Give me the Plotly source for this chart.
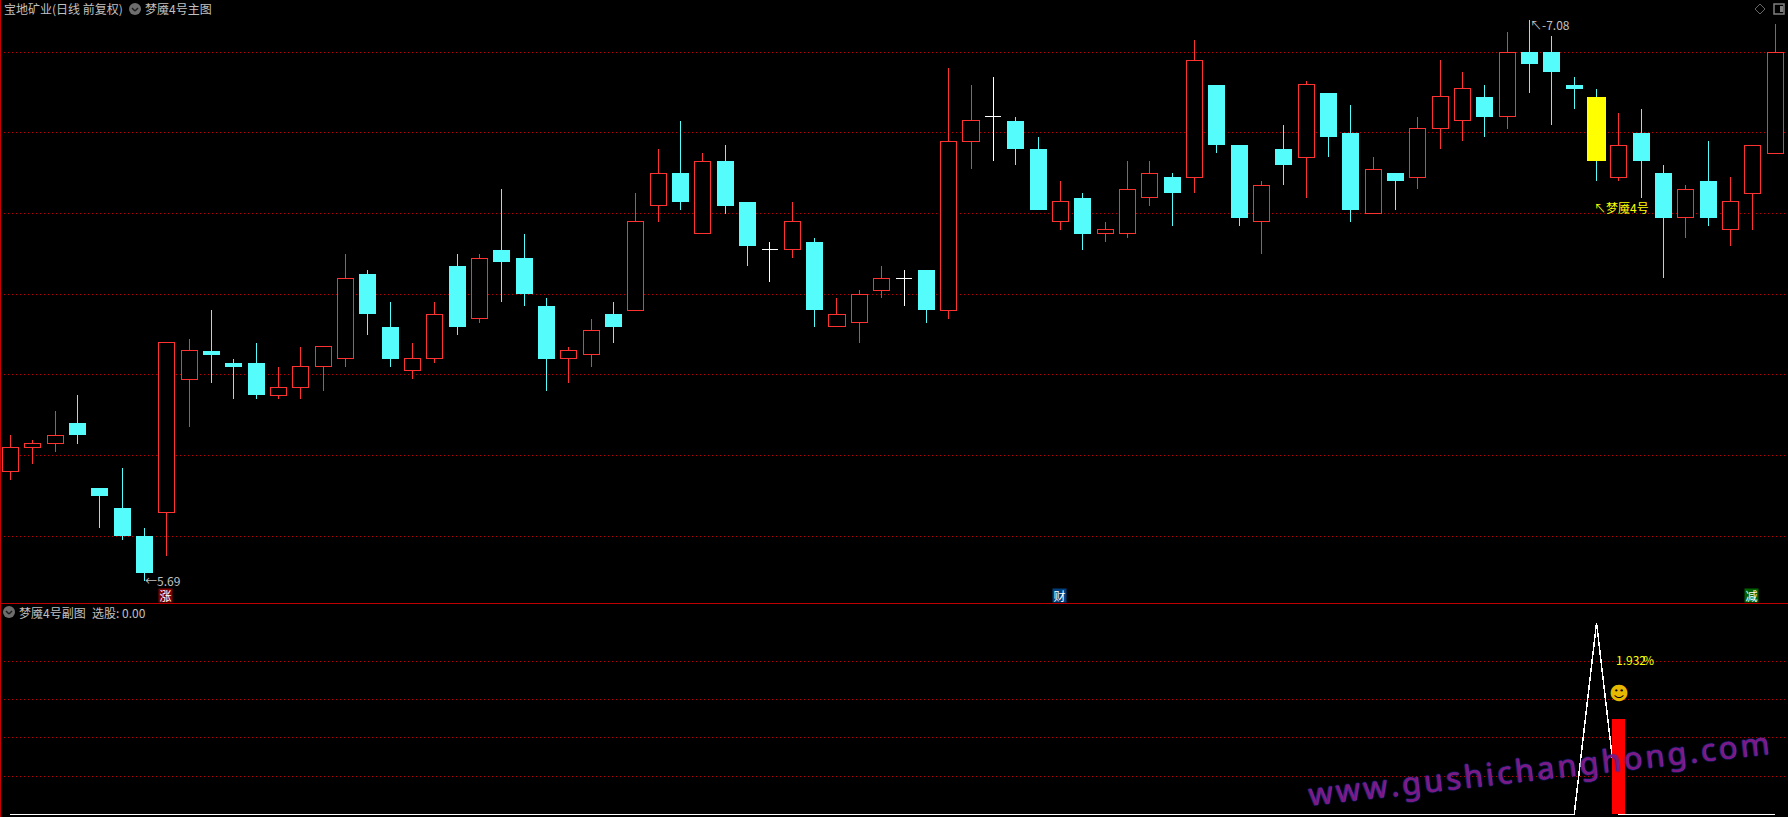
import plotly.graph_objects as go

W, H = 1788, 817

# ---- price data (one entry per trading day) ----
opens = [5.96,6.02,6.03,6.08,5.92,5.87,5.80,5.86,6.19,6.26,6.23,6.23,6.15,6.17,6.22,6.24,6.45,6.32,6.21,6.24,
         6.47,6.34,6.51,6.49,6.37,6.24,6.25,6.35,6.36,6.62,6.70,6.55,6.73,6.63,6.51,6.51,6.53,6.32,6.33,6.41,
         6.44,6.46,6.36,6.78,6.84,6.83,6.76,6.58,6.64,6.55,6.55,6.64,6.69,6.69,6.92,6.77,6.58,6.76,6.74,6.90,
         6.80,6.60,6.70,6.69,6.81,6.83,6.89,6.84,7.00,7.00,6.92,6.89,6.69,6.80,6.70,6.59,6.68,6.56,6.65,6.75]
highs = [6.05,6.04,6.11,6.15,5.92,5.97,5.82,6.28,6.29,6.36,6.24,6.28,6.22,6.27,6.27,6.50,6.46,6.38,6.28,6.38,
         6.50,6.50,6.66,6.55,6.39,6.27,6.34,6.38,6.65,6.76,6.83,6.75,6.77,6.63,6.53,6.63,6.54,6.39,6.41,6.47,
         6.46,6.46,6.96,6.92,6.94,6.84,6.79,6.68,6.65,6.58,6.73,6.73,6.70,7.03,6.92,6.77,6.68,6.82,6.93,6.90,
         6.87,6.74,6.70,6.84,6.98,6.95,6.92,7.05,7.08,7.04,6.94,6.91,6.85,6.86,6.72,6.67,6.78,6.69,6.77,7.07]
lows = [5.94,5.98,6.01,6.03,5.82,5.79,5.69,5.75,6.07,6.18,6.14,6.14,6.14,6.14,6.16,6.22,6.30,6.22,6.19,6.23,
        6.30,6.33,6.38,6.37,6.16,6.18,6.22,6.28,6.36,6.58,6.61,6.55,6.60,6.47,6.43,6.49,6.32,6.32,6.28,6.39,
        6.37,6.33,6.34,6.71,6.73,6.72,6.61,6.56,6.51,6.53,6.54,6.62,6.57,6.65,6.75,6.57,6.50,6.67,6.64,6.74,
        6.58,6.60,6.61,6.66,6.76,6.78,6.79,6.81,6.90,6.82,6.86,6.68,6.68,6.64,6.44,6.54,6.57,6.52,6.56,6.75]
closes = [6.02,6.03,6.05,6.05,5.90,5.80,5.71,6.28,6.26,6.25,6.22,6.15,6.17,6.22,6.27,6.44,6.35,6.24,6.24,6.35,
          6.32,6.49,6.48,6.40,6.24,6.26,6.31,6.32,6.58,6.70,6.63,6.73,6.62,6.52,6.51,6.58,6.36,6.35,6.40,6.44,
          6.44,6.36,6.78,6.83,6.84,6.76,6.61,6.63,6.55,6.56,6.66,6.70,6.65,6.98,6.77,6.59,6.67,6.72,6.92,6.79,
          6.61,6.71,6.68,6.81,6.89,6.91,6.84,7.00,6.97,6.95,6.91,6.73,6.77,6.73,6.59,6.66,6.59,6.63,6.77,7.00]
signal_day = 71          # the day painted yellow
price_grid = [7.0, 6.8, 6.6, 6.4, 6.2, 6.0, 5.8]

# ---- indicator data ----
line_values = [0]*71 + [100] + [0]*8
bar_days = [72]
bar_values = [50]
sub_grid = [20, 40, 60, 80]

days = list(range(len(opens)))

RED, CYAN, YELLOW, WHITE = "#ff3232", "#54fcfc", "#ffff00", "#ffffff"
GRID = "#c00000"
FONT = "Noto Sans CJK SC"
px, py = (lambda x: x/W), (lambda y: 1-y/H)

def kind(i):
    if i == signal_day: return "y"
    if opens[i] == closes[i]: return "d"
    return "r" if closes[i] > opens[i] else "c"

kinds = [kind(i) for i in days]
wick_col = {"y": CYAN, "d": WHITE, "r": RED, "c": CYAN}

fig = go.Figure()

# wicks
fig.add_bar(x=days, base=lows, y=[h-l for h, l in zip(highs, lows)], width=0.045,
            marker=dict(color=[wick_col[k] for k in kinds], line_width=0), xaxis="x", yaxis="y")

def sel(k): return [i for i in days if kinds[i] == k]

# falling candles, filled cyan
c = sel("c")
fig.add_bar(x=c, base=[closes[i] for i in c], y=[opens[i]-closes[i] for i in c], width=0.76,
            marker=dict(color=CYAN, line_width=0), xaxis="x", yaxis="y")
# rising candles, hollow red
r = sel("r")
fig.add_bar(x=r, base=[opens[i] for i in r], y=[closes[i]-opens[i] for i in r], width=0.72,
            marker=dict(color="#000000", line=dict(color=RED, width=1)), xaxis="x", yaxis="y")
# signal day, yellow
fig.add_bar(x=[signal_day], base=[closes[signal_day]], y=[opens[signal_day]-closes[signal_day]], width=0.85,
            marker=dict(color=YELLOW, line_width=0), xaxis="x", yaxis="y")
# unchanged days, white cross
d = sel("d")
fig.add_bar(x=d, base=[closes[i]-0.0012 for i in d], y=[0.0025]*len(d), width=0.72,
            marker=dict(color=WHITE, line_width=0), xaxis="x", yaxis="y")

# lower pane: the line first, the bar on a twin axis so it covers the line
fig.add_scatter(x=days, y=line_values, mode="lines", line=dict(color=WHITE, width=1.5),
                xaxis="x2", yaxis="y2")
fig.add_bar(x=bar_days, y=bar_values, width=0.58, marker=dict(color="#ff0000", line_width=0),
            xaxis="x2", yaxis="y3")

xr = [-0.4655, 79.57]
split = 603.5
sub_range = [-1.31, 110]
ax = dict(range=xr, showgrid=False, zeroline=False, showticklabels=False, ticks="", showline=False, fixedrange=True)
ay = dict(showgrid=True, gridcolor=GRID, griddash="1px,3px", gridwidth=1, zeroline=False,
          showticklabels=False, ticks="", showline=False, fixedrange=True)

def note(text, x, y, color="#c0c0c0", size=12, xref="paper", yref="paper", xa="left", ya="middle", **kw):
    return dict(text=text, x=x, y=y, xref=xref, yref=yref, xanchor=xa, yanchor=ya, showarrow=False,
                font=dict(color=color, size=size, family=FONT), borderpad=0, **kw)

tag = dict(color=WHITE, xref="x", xa="center", width=13, height=13, xshift=-1)
annotations = [
    note("宝地矿业(日线 前复权)", px(3), py(9)),
    note("梦魇4号主图", px(144), py(9)),
    note("梦魇4号副图", px(18), py(612)),
    note("选股: 0.00", px(91), py(612)),
    # extreme labels
    note("←5.69", 6, 5.69, xref="x", yref="y"),
    note("↖‑7.08", 68, 7.08, xref="x", yref="y", yshift=-4, xshift=-1),
    note("↖梦魇4号", 71, 6.61, color=YELLOW, xref="x", yref="y", xshift=-4, yshift=2),
    # tags on the lower edge of the upper pane
    note("涨", 7, py(595.5), bgcolor="#800000", **tag),
    note("财", 47, py(595.5), bgcolor="#004080", **tag),
    note("减", 78, py(595.5), bgcolor="#006400", **tag),
    # lower pane labels
    note("1.932", 72, 80.7, color=YELLOW, xref="x2", yref="y2", xshift=-4),
    note("%", 72, 80.7, color=YELLOW, xref="x2", yref="y2", xshift=23),
    dict(text="☻", x=72, y=63.5, xref="x2", yref="y2", showarrow=False, xanchor="center", yanchor="middle",
         font=dict(color="#e6b800", size=19, family="DejaVu Sans")),
    # watermark
    dict(text="\u200a".join("www.gushichanghong.com"), x=px(1538), y=py(768), xref="paper", yref="paper",
         showarrow=False, xanchor="center", yanchor="middle", textangle=-6.4,
         font=dict(color="#801880", size=31, family="Noto Sans",
                   shadow="0 0 1.5px #3030b0, 0 0 1.5px #3030b0, 0 0 1px #3030b0")),
]

def seg(x0, y0, x1, y1, color, w=1):
    return dict(type="line", xref="paper", yref="paper", x0=px(x0), y0=py(y0), x1=px(x1), y1=py(y1),
                line=dict(color=color, width=w), layer="above")

def badge(cx, cy):
    return [dict(type="circle", xref="paper", yref="paper", x0=px(cx-6), x1=px(cx+6), y0=py(cy-6), y1=py(cy+6),
                 fillcolor="#6e6e6e", line_width=0, layer="above"),
            seg(cx-3, cy-1, cx, cy+2, "#1e1e1e", 1.5), seg(cx, cy+2, cx+3, cy-1, "#1e1e1e", 1.5)]

shapes = [seg(0.5, 0, 0.5, H, "#c80000", 1), seg(0, 603.5, W, 603.5, "#c00000", 1)]
shapes += badge(135, 9) + badge(9, 612)
# top-right toolbar icons
shapes += [seg(1760, 4, 1765, 9, "#666666"), seg(1765, 9, 1760, 14, "#666666"),
           seg(1760, 14, 1755, 9, "#666666"), seg(1755, 9, 1760, 4, "#666666"),
           dict(type="rect", xref="paper", yref="paper", x0=px(1774), x1=px(1784), y0=py(4), y1=py(14),
                line=dict(color="#808080", width=1.5), layer="above"),
           dict(type="rect", xref="paper", yref="paper", x0=px(1780), x1=px(1783), y0=py(6), y1=py(12),
                fillcolor="#808080", line_width=0, layer="above")]

fig.update_layout(
    width=W, height=H, margin=dict(l=0, r=0, t=0, b=0, pad=0), autosize=False,
    paper_bgcolor="#000000", plot_bgcolor="#000000", showlegend=False, barmode="overlay",
    hovermode=False, bargap=0,
    xaxis={**ax, "anchor": "y", "domain": [0, 1]},
    yaxis={**ay, "anchor": "x", "domain": [1-split/H, 1], "range": [5.6334, 7.1297], "tickvals": price_grid},
    xaxis2={**ax, "anchor": "y2", "domain": [0, 1]},
    yaxis2={**ay, "anchor": "x2", "domain": [0, 1-split/H], "range": sub_range, "tickvals": sub_grid},
    yaxis3=dict(overlaying="y2", anchor="x2", range=sub_range, visible=False, fixedrange=True),
    annotations=annotations, shapes=shapes,
)

fig.write_html("out.html", config=dict(displayModeBar=False, staticPlot=True),
               post_script=("document.body.style.margin='0';document.body.style.background='#000';"
                            "document.body.style.overflow='hidden';"
                            "document.querySelectorAll('.bars path,.scatterlayer .js-line').forEach("
                            "function(p){p.style.shapeRendering='crispEdges';});"))
